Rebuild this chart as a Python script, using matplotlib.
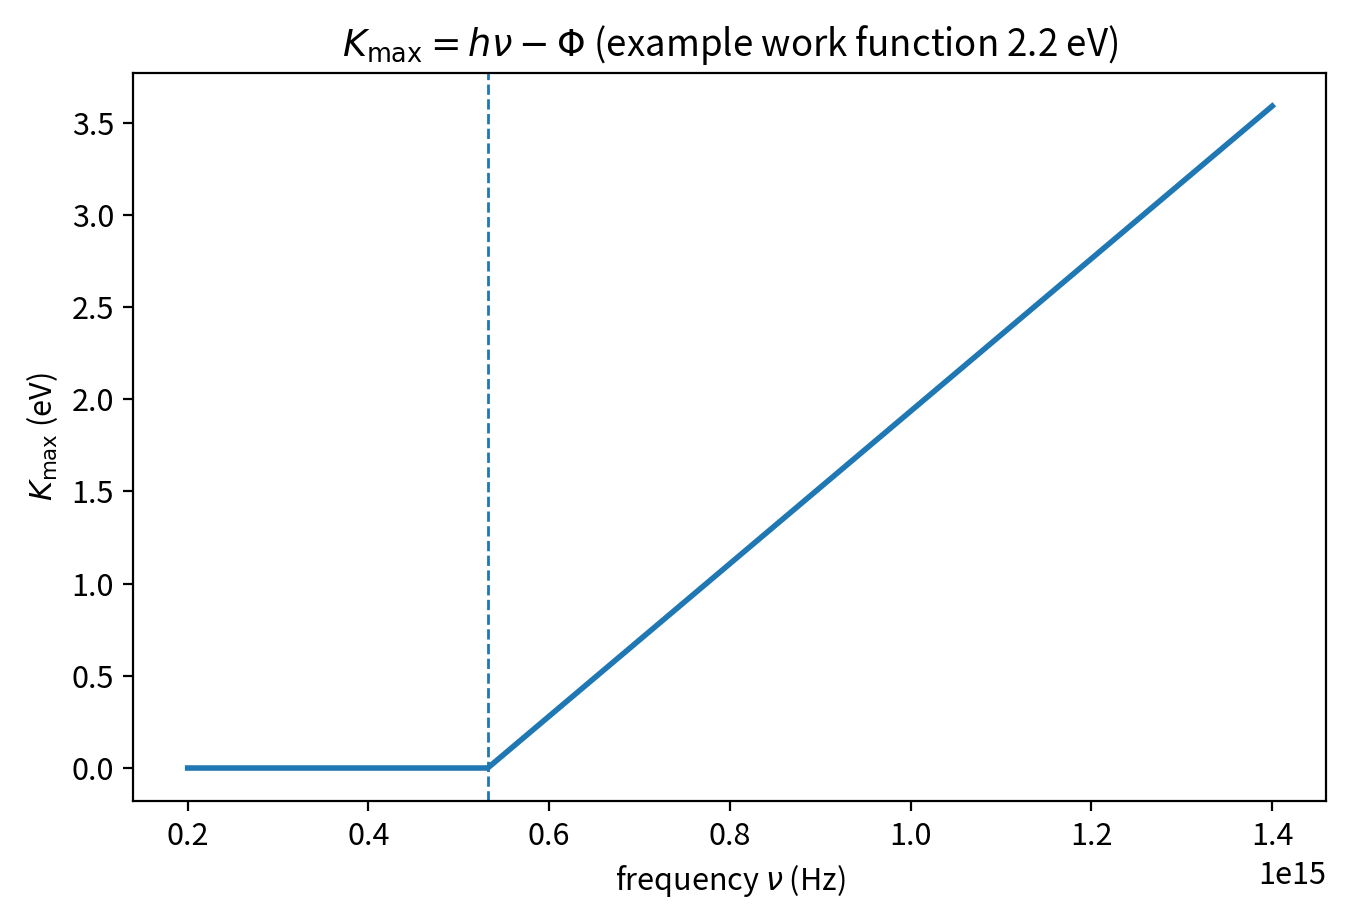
import matplotlib
matplotlib.use("Agg")
import matplotlib.pyplot as plt

plt.rcParams['font.family'] = ['Noto Sans CJK JP', 'DejaVu Sans']
plt.rcParams['font.size'] = 11

# Data
freq_hz = [0.2e15, 0.532e15, 1.4e15]
k_max_ev = [0.0, 0.0, 3.59]
threshold_hz = 0.532e15

fig, ax = plt.subplots(figsize=(6.74, 4.62), dpi=200)
ax.plot(freq_hz, k_max_ev, color='#1f77b4', linewidth=2)
ax.axvline(threshold_hz, color='#1f77b4', linestyle='--', linewidth=1)

ax.set_title(r"$K_{\max} = h\nu - \Phi$ (example work function 2.2 eV)", fontsize=13.2)
ax.set_xlabel(r"frequency $\nu$ (Hz)")
ax.set_ylabel(r"$K_{\max}$ (eV)")

fig.subplots_adjust(left=0.099, right=0.984, top=0.921, bottom=0.133)
fig.savefig("out.png", dpi=200)
